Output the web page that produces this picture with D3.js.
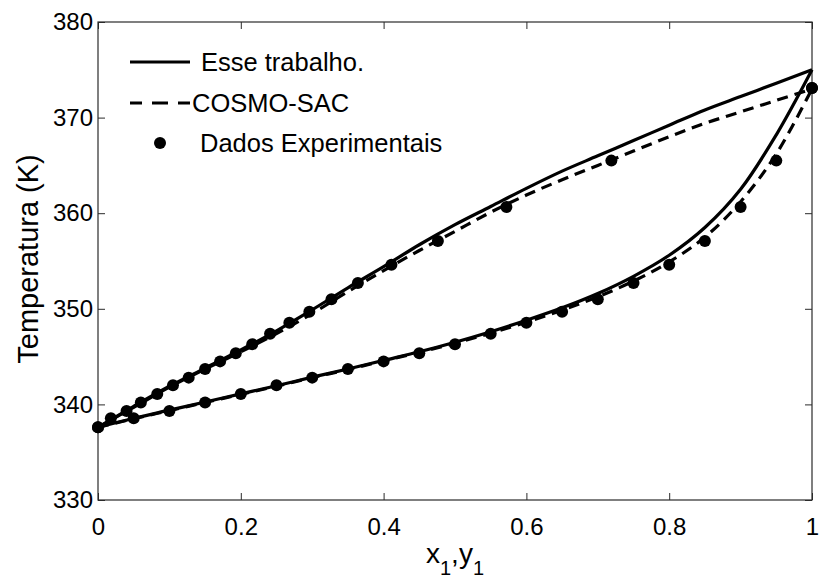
<!DOCTYPE html>
<html>
<head>
<meta charset="utf-8">
<script src="https://cdn.jsdelivr.net/npm/d3@7"></script>
<style>
  html, body { margin: 0; padding: 0; background: #fff; }
  svg { display: block; font-family: "Liberation Sans", Arial, Helvetica, sans-serif; }
</style>
</head>
<body>
<svg id="chart" width="819" height="586"></svg>
<script>
// Experimental T-x-y equilibrium data (shared temperatures)
const expT = [337.6, 338.55, 339.3, 340.2, 341.1, 342.0, 342.8, 343.7, 344.5, 345.35,
              346.3, 347.4, 348.55, 349.7, 351.0, 352.7, 354.6, 357.1, 360.65, 365.5, 373.1];
const expX = [0, 0.05, 0.10, 0.15, 0.20, 0.25, 0.30, 0.35, 0.40, 0.45,
              0.50, 0.55, 0.60, 0.65, 0.70, 0.75, 0.80, 0.85, 0.90, 0.95, 1.0];
const expY = [0, 0.018, 0.040, 0.060, 0.083, 0.105, 0.127, 0.150, 0.171, 0.193,
              0.216, 0.241, 0.268, 0.296, 0.327, 0.364, 0.411, 0.476, 0.572, 0.719, 1.0];

// Model curves evaluated on a common composition grid
const gridX = [0, 0.05, 0.10, 0.15, 0.20, 0.25, 0.30, 0.35, 0.40, 0.45,
               0.50, 0.55, 0.60, 0.65, 0.70, 0.75, 0.80, 0.85, 0.90, 0.95, 1.0];
const modelBubbleT = [337.6, 338.55, 339.4, 340.25, 341.1, 341.95, 342.85, 343.7, 344.6, 345.5,
                      346.5, 347.6, 348.8, 350.1, 351.6, 353.4, 355.6, 358.5, 362.5, 368.2, 375.0];
const modelDewT    = [337.6, 339.8, 341.9, 343.8, 345.7, 347.7, 349.9, 352.2, 354.4, 356.7,
                      358.8, 360.7, 362.6, 364.4, 366.0, 367.6, 369.2, 370.8, 372.2, 373.6, 375.0];
const cosmoBubbleT = [337.6, 338.5, 339.35, 340.2, 341.05, 341.9, 342.8, 343.65, 344.55, 345.45,
                      346.4, 347.45, 348.6, 349.85, 351.25, 352.9, 354.9, 357.5, 361.2, 366.2, 373.0];
const cosmoDewT    = [337.6, 339.7, 341.8, 343.7, 345.5, 347.4, 349.5, 351.8, 354.0, 356.1,
                      358.1, 360.1, 361.9, 363.5, 365.0, 366.5, 368.0, 369.4, 370.6, 371.8, 373.0];

const xTicks = [0, 0.2, 0.4, 0.6, 0.8, 1];
const xTickLabels = ["0", "0.2", "0.4", "0.6", "0.8", "1"];
const yTicks = [330, 340, 350, 360, 370, 380];

const legendLabels = ["Esse trabalho.", "COSMO-SAC", "Dados Experimentais"];

const svg = d3.select("#chart");
const margin = { left: 98, right: 819 - 812, top: 22, bottom: 586 - 500 };
const W = 819 - margin.left - margin.right;
const H = 586 - margin.top - margin.bottom;

const x = d3.scaleLinear().domain([0, 1]).range([margin.left, margin.left + W]);
const y = d3.scaleLinear().domain([330, 380]).range([margin.top + H, margin.top]);

const axisColor = "#2b2b2b";
const tickLen = 7;
const fontSize = 24;

// Axes with inward ticks on all four sides
const gx = svg.append("g").attr("transform", `translate(0,${margin.top + H})`)
  .call(d3.axisBottom(x).tickValues(xTicks).tickFormat((d, i) => xTickLabels[i])
        .tickSizeInner(-tickLen).tickSizeOuter(0).tickPadding(18));
const gxTop = svg.append("g").attr("transform", `translate(0,${margin.top})`)
  .call(d3.axisTop(x).tickValues(xTicks).tickFormat("").tickSizeInner(-tickLen).tickSizeOuter(0));
const gy = svg.append("g").attr("transform", `translate(${margin.left},0)`)
  .call(d3.axisLeft(y).tickValues(yTicks).tickFormat(d3.format("d"))
        .tickSizeInner(-tickLen).tickSizeOuter(0).tickPadding(5));
const gyRight = svg.append("g").attr("transform", `translate(${margin.left + W},0)`)
  .call(d3.axisRight(y).tickValues(yTicks).tickFormat("").tickSizeInner(-tickLen).tickSizeOuter(0));

[gx, gxTop, gy, gyRight].forEach(g => {
  g.select(".domain").remove();
  g.selectAll(".tick line").attr("stroke", axisColor).attr("stroke-width", 1);
  g.selectAll(".tick text").attr("fill", "#000").style("font-size", fontSize + "px")
    .style("font-family", '"Liberation Sans", Arial, sans-serif');
});
gx.selectAll(".tick text").attr("dy", "0.71em");

// Frame box
svg.append("rect")
  .attr("x", margin.left).attr("y", margin.top)
  .attr("width", W).attr("height", H)
  .attr("fill", "none").attr("stroke", axisColor).attr("stroke-width", 1.2);

const line = d3.line().curve(d3.curveCatmullRom.alpha(0.5));

function curve(xs, ts) { return line(xs.map((v, i) => [x(v), y(ts[i])])); }

// Model curves
const solidStyle = s => s.attr("fill", "none").attr("stroke", "#000").attr("stroke-width", 3.2);
const dashStyle = s => s.attr("fill", "none").attr("stroke", "#000").attr("stroke-width", 3.2)
                        .attr("stroke-dasharray", "11,7");

svg.append("path").attr("d", curve(gridX, cosmoBubbleT)).call(dashStyle);
svg.append("path").attr("d", curve(gridX, cosmoDewT)).call(dashStyle);
svg.append("path").attr("d", curve(gridX, modelBubbleT)).call(solidStyle);
svg.append("path").attr("d", curve(gridX, modelDewT)).call(solidStyle);

// Experimental points
const rDot = 6;
svg.append("g").selectAll("circle").data(expX).join("circle")
  .attr("cx", (d) => x(d)).attr("cy", (d, i) => y(expT[i])).attr("r", rDot).attr("fill", "#000");
svg.append("g").selectAll("circle").data(expY).join("circle")
  .attr("cx", (d) => x(d)).attr("cy", (d, i) => y(expT[i])).attr("r", rDot).attr("fill", "#000");

// Legend
const leg = svg.append("g").style("font-size", "25.5px");
const lx0 = 130, lx1 = 190, ly = [62, 103, 143];
leg.append("line").attr("x1", lx0).attr("x2", lx1).attr("y1", ly[0]).attr("y2", ly[0]).call(solidStyle);
leg.append("line").attr("x1", lx0).attr("x2", lx1).attr("y1", ly[1]).attr("y2", ly[1]).call(dashStyle)
  .attr("stroke-dasharray", "12,10,16,10,12");
leg.append("circle").attr("cx", (lx0 + lx1) / 2).attr("cy", ly[2]).attr("r", rDot).attr("fill", "#000");
leg.append("text").attr("x", 201).attr("y", ly[0]).attr("dy", "0.35em").text(legendLabels[0]);
leg.append("text").attr("x", 192).attr("y", ly[1]).attr("dy", "0.35em").text(legendLabels[1]);
leg.append("text").attr("x", 200).attr("y", ly[2]).attr("dy", "0.35em").text(legendLabels[2]);

// Axis titles
svg.append("text")
  .attr("transform", `translate(28,${margin.top + H / 2 - 2}) rotate(-90)`)
  .attr("text-anchor", "middle").attr("dy", "0.35em")
  .style("font-size", "29px").text("Temperatura (K)");

const xl = svg.append("text")
  .attr("x", margin.left + W / 2).attr("y", 563)
  .attr("text-anchor", "middle").style("font-size", "28px");
xl.append("tspan").text("x");
xl.append("tspan").attr("dy", 12).style("font-size", "20px").text("1");
xl.append("tspan").attr("dy", -12).text(",y");
xl.append("tspan").attr("dy", 12).style("font-size", "20px").text("1");
</script>
</body>
</html>
